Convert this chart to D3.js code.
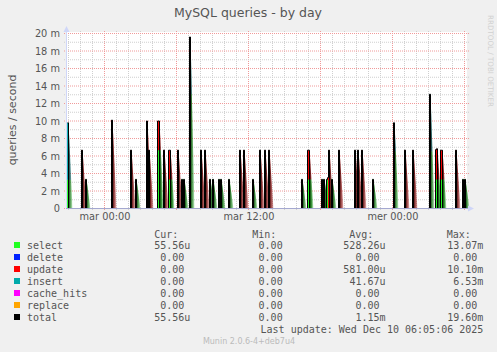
<!DOCTYPE html>
<html>
<head>
<meta charset="utf-8">
<script src="https://cdn.jsdelivr.net/npm/d3@7"></script>
<style>
  body { margin: 0; background: #f0f0f0; }
</style>
</head>
<body>
<svg id="chart" width="497" height="352" font-family="DejaVu Sans"></svg>
<script>
// series (munin stacking order) and colours
const seriesNames  = ['select', 'delete', 'update', 'insert', 'cache_hits', 'replace'];
const seriesColors = ['#22ff22', '#0022ff', '#ff0000', '#00aaaa', '#ff00ff', '#ffa500'];

// 5-minute slot (from graph start) of each non-zero sample
const spikeSlots = [0, 14, 18, 44, 63, 68, 79, 81, 90, 91,
  96, 101, 102, 110, 114, 116, 122, 133, 137, 142,
  145, 151, 153, 161, 172, 176, 185, 192, 197, 201,
  234, 240, 241, 254, 256, 259, 260, 261, 264, 271,
  287, 290, 294, 305, 326, 337, 345, 362, 368, 369,
  373, 374, 388, 395, 397];
// values in milli-queries / second
const selectVals = [3.27, 0, 3.33, 0, 0, 3.33, 0, 0, 6.67, 6.67,
  0, 3.33, 3.33, 0, 3.33, 3.33, 13.07, 0, 0, 3.33,
  3.33, 3.33, 3.33, 3.33, 0, 0, 3.33, 0, 0, 0,
  3.33, 3.33, 3.33, 3.33, 3.33, 3.33, 3.33, 0, 3.33, 0,
  0, 0, 0, 3.33, 6.53, 0, 0, 6.53, 3.33, 3.33,
  3.33, 3.33, 0, 3.33, 3.33];
const updateVals = [0, 6.67, 0, 10.1, 6.67, 0, 10, 6.67, 3.33, 3.33,
  6.67, 3.33, 3.33, 6.67, 0, 0, 0, 6.67, 6.67, 0,
  0, 0, 0, 0, 6.67, 6.67, 0, 6.67, 6.67, 6.67,
  0, 3.33, 3.33, 0, 0, 0, 0.2, 6.67, 0, 6.67,
  6.67, 6.67, 6.67, 0, 0, 6.67, 6.67, 0, 3.4, 3.5,
  3.33, 3.33, 6.67, 0, 0];
const insertVals = [6.53, 0, 0, 0, 0, 0, 0, 0, 0, 0,
  0, 0, 0, 0, 0, 0, 6.53, 0, 0, 0,
  0, 0, 0, 0, 0, 0, 0, 0, 0, 0,
  0, 0, 0, 0, 0, 0, 0, 0, 0, 0,
  0, 0, 0, 0, 3.27, 0, 0, 6.53, 0, 0,
  0, 0, 0, 0, 0];

// axis ticks
const yTicks = [0, 2, 4, 6, 8, 10, 12, 14, 16, 18, 20];
const yTickLabels = ['0', '2 m', '4 m', '6 m', '8 m', '10 m', '12 m', '14 m', '16 m', '18 m', '20 m'];
const xTickTimes = [new Date(2025, 11, 9, 0, 0), new Date(2025, 11, 9, 12, 0), new Date(2025, 11, 10, 0, 0)];
const xTickLabels = ['mar 00:00', 'mar 12:00', 'mer 00:00'];

// legend table
const legendNames = ['select', 'delete', 'update', 'insert', 'cache_hits', 'replace', 'total'];
const legendColors = ['#22ff22', '#0022ff', '#ff0000', '#00aaaa', '#ff00ff', '#ffa500', '#000000'];
const curVals = ['55.56u', '0.00', '0.00', '0.00', '0.00', '0.00', '55.56u'];
const minVals = ['0.00', '0.00', '0.00', '0.00', '0.00', '0.00', '0.00'];
const avgVals = ['528.26u', '0.00', '581.00u', '41.67u', '0.00', '0.00', '1.15m'];
const maxVals = ['13.07m', '0.00', '10.10m', '6.53m', '0.00', '0.00', '19.60m'];

const startTime = new Date(2025, 11, 8, 20, 55);
const slotMs = 5 * 60 * 1000;
const nSlots = 400;
const endTime = new Date(+startTime + nSlots * slotMs);

const svg = d3.select('#chart');

const x = d3.scaleTime().domain([startTime, endTime]).range([67, 467]);
const y = d3.scaleLinear().domain([0, 20]).range([208.5, 33.5]);

// full sample table
const table = d3.range(nSlots).map(i => {
  const row = {t: new Date(+startTime + i * slotMs)};
  seriesNames.forEach(k => row[k] = 0);
  return row;
});
spikeSlots.forEach((s, j) => {
  table[s].select = selectVals[j];
  table[s].update = updateVals[j];
  table[s].insert = insertVals[j];
});
const stacked = d3.stack().keys(seriesNames)(table);
table.forEach((r, i) => {
  r.total = d3.sum(seriesNames, k => r[k]);
  r.layers = stacked.map((s, k) => ({key: s.key, color: seriesColors[k], y0: s[i][0], y1: s[i][1]}))
    .filter(l => l.y1 > l.y0);
});

// canvas
svg.append('rect').attr('x', 66).attr('y', 32).attr('width', 401).attr('height', 177).attr('fill', '#fff');

// grid
const hours = d3.timeHour.every(1).range(startTime, endTime);
svg.append('g').selectAll('line').data(hours).join('line')
  .attr('x1', d => Math.round(x(d)) + 0.5).attr('x2', d => Math.round(x(d)) + 0.5)
  .attr('y1', 31).attr('y2', 210)
  .attr('stroke', d => d.getHours() % 6 === 0 ? '#f09a9a' : '#cfcfcf')
  .attr('stroke-dasharray', '1,1');
const yMinor = d3.range(0, 21, 1);
svg.append('g').selectAll('line').data(yMinor).join('line')
  .attr('x1', 64).attr('x2', 469)
  .attr('y1', d => y(d)).attr('y2', d => y(d))
  .attr('stroke', d => d % 2 === 0 ? '#f09a9a' : '#cfcfcf')
  .attr('stroke-dasharray', '1,1');

// gradients for the spike fades
const defs = svg.append('defs');
seriesNames.forEach((k, i) => {
  const g = defs.append('linearGradient').attr('id', 'fade-' + k);
  g.append('stop').attr('offset', '0%').attr('stop-color', seriesColors[i]).attr('stop-opacity', 1);
  g.append('stop').attr('offset', '100%').attr('stop-color', seriesColors[i]).attr('stop-opacity', 0.1);
});
const gd = defs.append('linearGradient').attr('id', 'fade-dark');
gd.append('stop').attr('offset', '0%').attr('stop-color', '#000').attr('stop-opacity', 0.8);
gd.append('stop').attr('offset', '50%').attr('stop-color', '#000').attr('stop-opacity', 0.35);
gd.append('stop').attr('offset', '100%').attr('stop-color', '#000').attr('stop-opacity', 0);

const spikeRows = table.filter(r => r.total > 0);
spikeRows.forEach((d, i) => {
  const x0 = x(d.t), yt = y(d.total), yb = y(0) + 0.5;
  defs.append('clipPath').attr('id', 'clip' + i).append('polygon')
    .attr('points', [[x0, yb], [x0, yt], [x0 + 1.5, yt], [x0 + 5.5, yb]].map(p => p.join(',')).join(' '));
});

const spikes = svg.append('g').selectAll('g').data(spikeRows).join('g')
  .attr('clip-path', (d, i) => `url(#clip${i})`);
spikes.selectAll('rect.layer').data(d => d.layers.map(l => ({...l, t: d.t}))).join('rect')
  .attr('class', 'layer')
  .attr('x', d => x(d.t)).attr('width', 6)
  .attr('y', d => y(d.y1)).attr('height', d => y(d.y0) - y(d.y1))
  .attr('fill', d => `url(#fade-${d.key})`);
spikes.append('rect')
  .attr('x', d => x(d.t) + 1).attr('width', 5)
  .attr('y', d => y(d.total)).attr('height', d => y(0) - y(d.total))
  .attr('fill', 'url(#fade-dark)');

// total line
const lineRows = table.concat([{t: endTime, total: 0}]);
const totalLine = d3.line()
  .defined((d, i) => d.total > 0 || (lineRows[i - 1] && lineRows[i - 1].total > 0) || (lineRows[i + 1] && lineRows[i + 1].total > 0))
  .x(d => x(d.t) + 0.5)
  .y(d => y(d.total))
  .curve(d3.curveStepAfter);
svg.append('path').datum(lineRows).attr('d', totalLine)
  .attr('fill', 'none').attr('stroke', '#000').attr('stroke-width', 1);

// axes lines + arrows
svg.append('line').attr('x1', 66).attr('x2', 470).attr('y1', 208.5).attr('y2', 208.5).attr('stroke', '#a4a8d0');
svg.append('line').attr('x1', 66.5).attr('x2', 66.5).attr('y1', 208).attr('y2', 29).attr('stroke', '#cfd6f8');
svg.append('path').attr('d', 'M63.5,32 L66.5,26 L69.5,32 Z').attr('fill', '#cfd6f8');
svg.append('path').attr('d', 'M468,205.5 L474,208.5 L468,211.5 Z').attr('fill', '#cfd6f8');

// y axis labels
const yAxis = d3.axisLeft(y).tickValues(yTicks).tickFormat((d, i) => yTickLabels[i]).tickSize(0).tickPadding(6);
const gy = svg.append('g').attr('transform', 'translate(66,0)').call(yAxis);
gy.select('.domain').remove();
gy.attr('font-family', 'DejaVu Sans');
gy.selectAll('text').attr('font-size', '9.8px').attr('fill', '#555').attr('dy', '0.35em');

// x axis labels
const xAxis = d3.axisBottom(x).tickValues(xTickTimes).tickFormat((d, i) => xTickLabels[i]).tickSize(0).tickPadding(0);
const gx = svg.append('g').attr('transform', 'translate(0.5,212)').call(xAxis);
gx.select('.domain').remove();
gx.attr('font-family', 'DejaVu Sans');
gx.selectAll('text').attr('font-size', '9.8px').attr('fill', '#555').attr('dy', '0.8em');

// titles
svg.append('text').attr('x', 248).attr('y', 17).attr('text-anchor', 'middle')
  .attr('font-size', '12.5px').attr('fill', '#555').text('MySQL queries - by day');
svg.append('text').attr('transform', 'translate(16,120) rotate(-90)').attr('text-anchor', 'middle')
  .attr('font-size', '11px').attr('fill', '#555').text('queries / second');
svg.append('text').attr('transform', 'translate(488,15) rotate(90)')
  .attr('font-size', '7.5px').attr('fill', '#d0d0d0')
  .attr('textLength', 92).attr('lengthAdjust', 'spacingAndGlyphs').text('RRDTOOL / TOBI OETIKER');

// legend
const mono = 'DejaVu Sans Mono';
const cw = 6.02;
const headX = [154.3, 252.3, 349.3, 446.7];
const colEnd = [190.3, 288.7, 385.5, 483.3];
['Cur:', 'Min:', 'Avg:', 'Max:'].forEach((h, i) => {
  svg.append('text').attr('x', headX[i]).attr('y', 237.5).attr('font-family', mono)
    .attr('font-size', '10px').attr('fill', '#555').text(h);
});
const rowY = i => 249.3 + i * 12;
const leg = svg.append('g').attr('font-family', mono).attr('font-size', '10px');
leg.selectAll('rect').data(legendNames).join('rect')
  .attr('x', 14).attr('y', (d, i) => rowY(i) - 7.3).attr('width', 6).attr('height', 6)
  .attr('fill', (d, i) => legendColors[i]);
leg.selectAll('text.name').data(legendNames).join('text').attr('class', 'name')
  .attr('x', 27).attr('y', (d, i) => rowY(i)).attr('fill', '#555').text(d => d);
[curVals, minVals, avgVals, maxVals].forEach((vals, c) => {
  leg.selectAll('text.c' + c).data(vals).join('text').attr('class', 'c' + c)
    .attr('x', d => /\d$/.test(d) ? colEnd[c] - cw : colEnd[c])
    .attr('y', (d, i) => rowY(i)).attr('text-anchor', 'end')
    .attr('fill', '#555').text(d => d);
});
svg.append('text').attr('x', 483.3).attr('y', 333.4).attr('text-anchor', 'end')
  .attr('font-family', mono).attr('font-size', '10px').attr('fill', '#555')
  .text('Last update: Wed Dec 10 06:05:06 2025');
svg.append('text').attr('x', 249).attr('y', 344).attr('text-anchor', 'middle')
  .attr('font-size', '8px').attr('fill', '#bbb').text('Munin 2.0.6-4+deb7u4');
</script>
</body>
</html>
